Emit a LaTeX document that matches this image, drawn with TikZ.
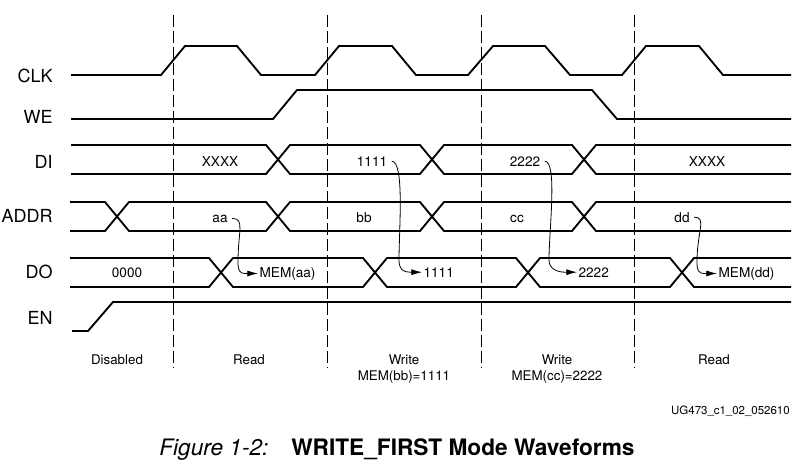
\documentclass[tikz,border=0pt]{standalone}
\usepackage{fontspec}
\setmainfont{TeX Gyre Heros}
\usepackage{tikz}
\usetikzlibrary{calc,arrows.meta}
\def\memarrow(#1)(#2)(#3){\draw[memarr] ($(#1.east)+(3,0)$) .. controls +(13,0) and +(0,-30) .. ($(#2.west)+(-#3,-12)$) .. controls +(0,9) and +(-7,0) .. ($(#2.west)+(-12,0)$) -- (#2.west);}
\tikzset{
	sigline/.style={line width=1.4pt},
	divline/.style={line width=0.7pt, dash pattern=on 9pt off 3pt},
	signame/.style={anchor=base east, inner sep=0pt, font=\fontsize{13.5}{16}\selectfont},
	busval/.style={anchor=base, inner sep=1pt, font=\fontsize{10.2}{12}\selectfont},
	phase/.style={anchor=base, inner sep=1pt, font=\fontsize{10}{12}\selectfont},
	memarr/.style={line width=0.6pt, -{Latex[length=8pt,width=4.5pt]}}
}

\begin{document}
\begin{tikzpicture}[x=0.75pt, y=-0.75pt]
			%%%%% START %%%%%
			\useasboundingbox[fill=white] (0,0) rectangle (803,468);
			
			\draw[divline] (173,15) -- (173,368);
			\draw[divline] (327,15) -- (327,368);
			\draw[divline] (481,15) -- (481,368);
			\draw[divline] (634,15) -- (634,368);
			
			\node[signame] (clk) at (53,82) {CLK};
			\node[signame] (we) at (53,123) {WE};
			\node[signame] (di) at (53,168) {DI};
			\node[signame] (addr) at (53,222) {ADDR};
			\node[signame] (do) at (53,278) {DO};
			\node[signame] (en) at (53,324) {EN};
			
			\draw[sigline] (71,75) -- (161,75) -- (185,46) -- (237,46) -- (261,75) -- (315,75) -- (339,46) -- (392,46) -- (416,75) -- (468,75) -- (493,46) -- (545,46) -- (570,75) -- (622,75) -- (646,46) -- (699,46) -- (723,75) -- (791,75);
			
			\draw[sigline] (71,119) -- (273,119) -- (297,90) -- (592,90) -- (617,119) -- (791,119);
			
			\draw[sigline] (71,145) -- (266,145) -- (290,174) -- (420,174) -- (444,145) -- (572,145) -- (596,174) -- (791,174);
			\draw[sigline] (71,174) -- (266,174) -- (290,145) -- (420,145) -- (444,174) -- (572,174) -- (596,145) -- (791,145);
			
			\draw[sigline] (70,202) -- (105,202) -- (129,231) -- (266,231) -- (290,202) -- (420,202) -- (444,231) -- (572,231) -- (596,202) -- (791,202);
			\draw[sigline] (70,231) -- (105,231) -- (129,202) -- (266,202) -- (290,231) -- (420,231) -- (444,202) -- (572,202) -- (596,231) -- (791,231);
			
			\draw[sigline] (70,258) -- (209,258) -- (233,287) -- (363,287) -- (387,258) -- (516,258) -- (540,287) -- (670,287) -- (694,258) -- (791,258);
			\draw[sigline] (70,287) -- (209,287) -- (233,258) -- (363,258) -- (387,287) -- (516,287) -- (540,258) -- (670,258) -- (694,287) -- (791,287);
			
			\draw[sigline] (72,331) -- (88,331) -- (113,302) -- (791,302);
			
			\node[busval] (dixa) at (220,166) {XXXX};
			\node[busval] (di1) at (372,166) {1111};
			\node[busval] (di2) at (525,166) {2222};
			\node[busval] (dixb) at (707,166) {XXXX};
			
			\node[busval] (aa) at (220,222) {aa};
			\node[busval] (bb) at (364,222) {bb};
			\node[busval] (cc) at (517,222) {cc};
			\node[busval] (dd) at (682,222) {dd};
			
			\node[busval] (do0) at (127,277) {0000};
			\node[busval, anchor=base west] (memaa) at (258,277) {MEM(aa)};
			\node[busval, anchor=base west] (do1) at (422,277) {1111};
			\node[busval, anchor=base west] (do2) at (577,277) {2222};
			\node[busval, anchor=base west] (memdd) at (717,277) {MEM(dd)};
			
			\memarrow(aa)(memaa)(20)
			\memarrow(di1)(do1)(23)
			\memarrow(di2)(do2)(28)
			\memarrow(dd)(memdd)(20)
			
			\node[phase] (disabled) at (117,364) {Disabled};
			\node[phase] (reada) at (249,364) {Read};
			\node[phase] (writea) at (404,364) {Write};
			\node[phase] (memwa) at (404,380) {MEM(bb)=1111};
			\node[phase] (writeb) at (557,364) {Write};
			\node[phase] (memwb) at (557,380) {MEM(cc)=2222};
			\node[phase] (readb) at (714,364) {Read};
			
			\node[anchor=base east, inner sep=0pt, font=\fontsize{8.6}{10}\selectfont] (figid) at (790,414) {UG473\_c1\_02\_052610};
			
			\node[anchor=base west, inner sep=0pt, font=\fontsize{17}{20}\selectfont\itshape] (fignum) at (159,455) {Figure 1-2:};
			\node[anchor=base west, inner sep=0pt, font=\fontsize{17}{20}\selectfont\bfseries] (figtitle) at (291,455) {WRITE\_FIRST Mode Waveforms};
			
			%%%%% END %%%%%
\end{tikzpicture}
\end{document}
